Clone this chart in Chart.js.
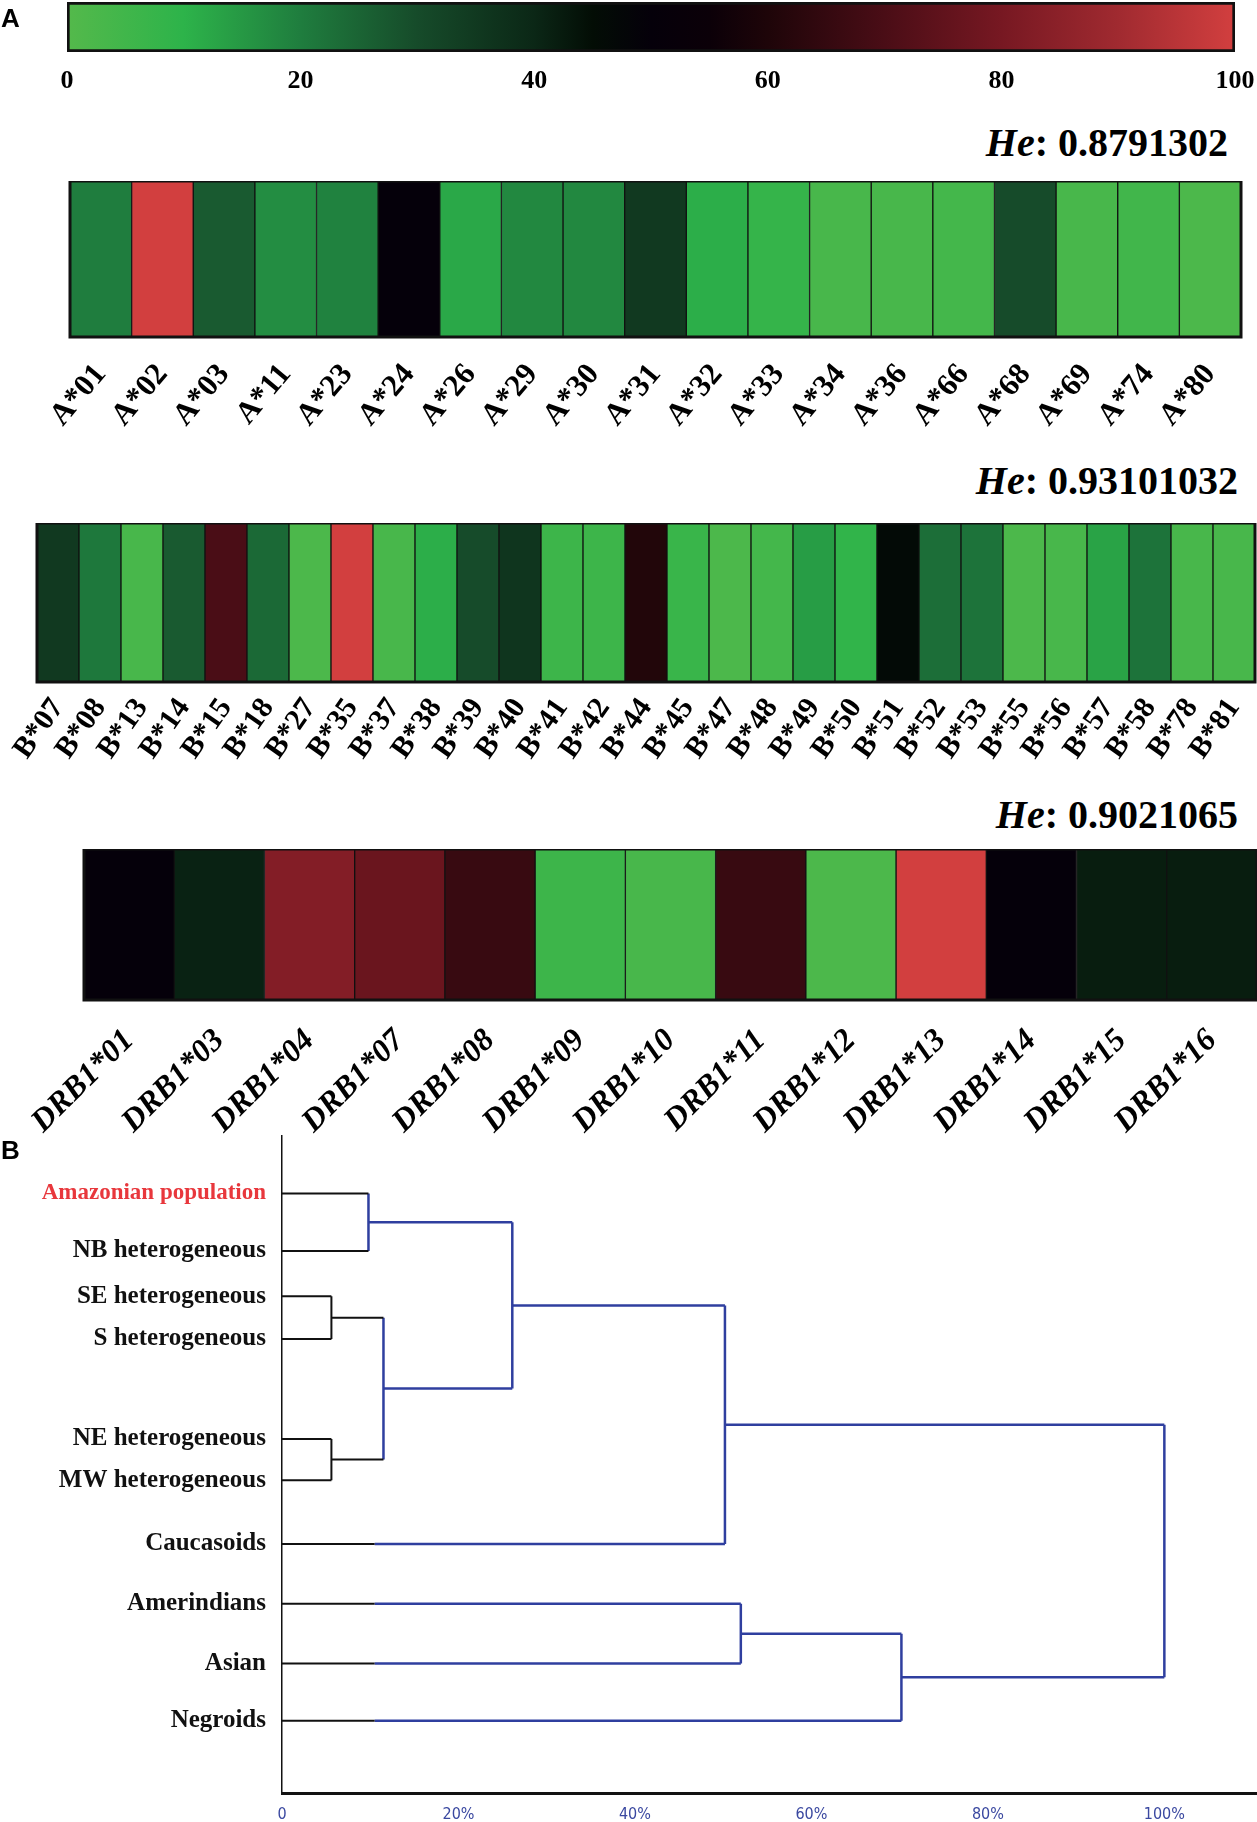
<!DOCTYPE html>
<html>
<head>
<meta charset="utf-8">
<script src="https://cdn.jsdelivr.net/npm/chart.js@4.4.1/dist/chart.umd.min.js"></script>
<style>
  html, body { margin: 0; padding: 0; background: #fff; }
  body { width: 1257px; height: 1822px; position: relative; overflow: hidden; font-family: 'Liberation Serif', 'Times New Roman', serif; }
  .box { position: absolute; left: 0; width: 1257px; }
  .he { position: absolute; font-weight: bold; font-size: 40px; line-height: 44px; white-space: nowrap; color: #000; }
  .panel { position: absolute; left: 1px; font-family: 'Liberation Sans', Arial, sans-serif; font-weight: bold; font-size: 26px; line-height: 26px; }
</style>
</head>
<body>
<div class="box" style="top:0;height:110px"><canvas id="colorScale"></canvas></div>
<div class="box" style="top:181px;height:270px"><canvas id="hlaA"></canvas></div>
<div class="box" style="top:523px;height:267px"><canvas id="hlaB"></canvas></div>
<div class="box" style="top:849px;height:291px"><canvas id="hlaDRB1"></canvas></div>
<div class="box" style="top:1130px;height:692px"><canvas id="dendro"></canvas></div>

<div class="panel" style="top:5px">A</div>
<div class="panel" style="top:1137px">B</div>
<div class="he" style="right:29px;top:121px"><i>He</i>: 0.8791302</div>
<div class="he" style="right:19px;top:459px"><i>He</i>: 0.93101032</div>
<div class="he" style="right:19px;top:793px"><i>He</i>: 0.9021065</div>

<script>
Chart.defaults.font.family = "'Liberation Serif', 'Times New Roman', serif";
Chart.defaults.color = '#000';

// colour scale (frequency %)
const scaleTicks = [0, 20, 40, 60, 80, 100];
const colorStops = [
  [0, '#54b94b'], [10, '#2db34a'], [20, '#1f7d3e'], [30, '#164b2a'], [40, '#0b2716'],
  [45, '#030d05'], [50, '#05000a'], [55, '#0b0008'], [60, '#1e0509'], [70, '#4a0d16'],
  [80, '#771822'], [90, '#a02a30'], [100, '#d23f3f']
];

// HLA-A
const allelesA = ['A*01','A*02','A*03','A*11','A*23','A*24','A*26','A*29','A*30','A*31',
  'A*32','A*33','A*34','A*36','A*66','A*68','A*69','A*74','A*80'];
const valuesA = [20, 100, 27, 17, 19, 50, 12, 18, 18, 35, 11, 8, 3, 3, 4, 30, 3, 5, 2];

// HLA-B
const allelesB = ['B*07','B*08','B*13','B*14','B*15','B*18','B*27','B*35','B*37','B*38',
  'B*39','B*40','B*41','B*42','B*44','B*45','B*47','B*48','B*49','B*50','B*51','B*52',
  'B*53','B*55','B*56','B*57','B*58','B*78','B*81'];
const valuesB = [35, 21, 3, 27, 70, 24, 2, 100, 3, 11, 30, 36, 6, 6, 61, 7, 2, 4, 14, 9,
  46, 23, 22, 2, 3, 13, 22, 3, 3];

// HLA-DRB1
const allelesDRB1 = ['DRB1*01','DRB1*03','DRB1*04','DRB1*07','DRB1*08','DRB1*09','DRB1*10',
  'DRB1*11','DRB1*12','DRB1*13','DRB1*14','DRB1*15','DRB1*16'];
const valuesDRB1 = [50, 41, 83, 77, 66, 6, 3, 66, 2, 100, 50, 42, 42];

// dendrogram
const popNames = ['Amazonian population','NB heterogeneous','SE heterogeneous','S heterogeneous',
  'NE heterogeneous','MW heterogeneous','Caucasoids','Amerindians','Asian','Negroids'];
const leafPos = [8.75, 17.5, 24.4, 30.9, 46.1, 52.4, 62.1, 71.2, 80.3, 89.0];
// [child, child, height %]; new nodes get numbers after the leaves
const merges = [[0, 1, 9.8], [2, 3, 5.6], [4, 5, 5.6], [11, 12, 11.5], [10, 13, 26.1],
  [14, 6, 50.2], [7, 8, 52.0], [16, 9, 70.2], [15, 17, 100]];
const distTicks = [0, 20, 40, 60, 80, 100];

const BLACK = '#111111';
const BLUE = '#2f3f9f';

function hexRgb(h) {
  return [1, 3, 5].map(i => parseInt(h.substr(i, 2), 16));
}

function valueColor(v) {
  for (let i = 1; i < colorStops.length; i++) {
    if (v <= colorStops[i][0]) {
      const a = colorStops[i - 1], b = colorStops[i];
      const t = (v - a[0]) / (b[0] - a[0]);
      const ca = hexRgb(a[1]), cb = hexRgb(b[1]);
      const c = ca.map((x, k) => Math.round(x + (cb[k] - x) * t));
      return 'rgb(' + c.join(',') + ')';
    }
  }
  return colorStops[colorStops.length - 1][1];
}

function gradientFill(ctx) {
  const a = ctx.chart.chartArea;
  if (!a) return colorStops[0][1];
  const g = ctx.chart.ctx.createLinearGradient(a.left, 0, a.right, 0);
  colorStops.forEach(s => g.addColorStop(s[0] / 100, s[1]));
  return g;
}

const frame = {
  id: 'frame',
  afterDatasetsDraw(chart) {
    const a = chart.chartArea, c = chart.ctx;
    c.save();
    c.strokeStyle = BLACK;
    c.lineWidth = 3;
    c.strokeRect(a.left, a.top, a.right - a.left, a.bottom - a.top);
    c.restore();
  }
};

const quiet = { legend: { display: false }, tooltip: { enabled: false } };

// colour bar
new Chart(document.getElementById('colorScale'), {
  type: 'bar',
  data: {
    labels: [''],
    datasets: [{
      data: [[scaleTicks[0], scaleTicks[scaleTicks.length - 1]]],
      backgroundColor: gradientFill,
      borderColor: BLACK,
      borderWidth: 3,
      borderSkipped: false,
      barPercentage: 1,
      categoryPercentage: 1
    }]
  },
  options: {
    indexAxis: 'y',
    responsive: true, maintainAspectRatio: false, animation: false,
    layout: { padding: { left: 67, right: 22, top: 2 } },
    plugins: quiet,
    scales: {
      x: {
        type: 'linear', min: 0, max: 100,
        grid: { display: false }, border: { display: false },
        afterBuildTicks: s => { s.ticks = scaleTicks.map(v => ({ value: v })); },
        ticks: { padding: 6, font: { size: 26, weight: 'bold' } },
        afterFit: s => { s.height = 58; s.paddingLeft = 0; s.paddingRight = 0; }
      },
      y: { display: false }
    }
  }
});

function heatRow(id, labels, values, o) {
  return new Chart(document.getElementById(id), {
    type: 'bar',
    data: {
      labels: labels,
      datasets: [{
        data: values.map(() => 1),
        backgroundColor: values.map(valueColor),
        borderColor: BLACK,
        borderWidth: 1,
        borderSkipped: false,
        barPercentage: 1,
        categoryPercentage: 1
      }]
    },
    options: {
      responsive: true, maintainAspectRatio: false, animation: false,
      layout: { padding: { left: o.left, right: o.right, top: 0 } },
      plugins: quiet,
      scales: {
        x: {
          grid: { display: false }, border: { display: false },
          ticks: {
            autoSkip: false, minRotation: o.rot, maxRotation: o.rot, padding: o.pad,
            font: { size: o.size, weight: 'bold', style: o.style }
          },
          afterFit: s => { s.height = o.axisH; s.paddingLeft = 0; s.paddingRight = 0; }
        },
        y: { display: false, min: 0, max: 1 }
      }
    },
    plugins: [frame]
  });
}

heatRow('hlaA', allelesA, valuesA, { left: 70, right: 16, rot: 50, pad: 12, size: 31, style: 'normal', axisH: 114 });
heatRow('hlaB', allelesB, valuesB, { left: 37, right: 2, rot: 55, pad: 2, size: 30, style: 'normal', axisH: 108 });
heatRow('hlaDRB1', allelesDRB1, valuesDRB1, { left: 84, right: 0, rot: 45, pad: 14, size: 32, style: 'italic', axisH: 140 });

// dendrogram segments from the merge table
const blackCut = 10.5;
const nodeY = leafPos.slice();
const nodeH = leafPos.map(() => 0);
const segs = [];
merges.forEach(m => {
  const a = m[0], b = m[1], h = m[2];
  [a, b].forEach(c => {
    const y = nodeY[c], h0 = nodeH[c];
    if (c < popNames.length && h >= 12) {
      segs.push([h0, y, blackCut, y, BLACK]);
      segs.push([blackCut, y, h, y, BLUE]);
    } else {
      segs.push([h0, y, h, y, h >= 12 ? BLUE : BLACK]);
    }
  });
  segs.push([h, nodeY[a], h, nodeY[b], h >= 9 ? BLUE : BLACK]);
  nodeY.push((nodeY[a] + nodeY[b]) / 2);
  nodeH.push(h);
});

new Chart(document.getElementById('dendro'), {
  type: 'scatter',
  data: {
    datasets: segs.map(s => ({
      data: [{ x: s[0], y: s[1] }, { x: s[2], y: s[3] }],
      showLine: true,
      borderColor: s[4],
      borderWidth: s[4] === BLUE ? 2.5 : 2,
      pointRadius: 0,
      fill: false
    }))
  },
  options: {
    responsive: true, maintainAspectRatio: false, animation: false,
    layout: { padding: { top: 6, right: 0, left: 0 } },
    plugins: quiet,
    scales: {
      x: {
        type: 'linear', min: 0, max: 110.5,
        grid: { display: false },
        border: { display: true, color: BLACK, width: 3 },
        afterBuildTicks: s => { s.ticks = distTicks.map(v => ({ value: v })); },
        ticks: {
          padding: 4, color: '#3a48a0',
          font: { family: "'Liberation Sans Narrow', 'DejaVu Sans Condensed', sans-serif", size: 16 },
          callback: v => v === 0 ? '0' : v + '%'
        },
        afterFit: s => { s.height = 29; s.paddingLeft = 0; s.paddingRight = 0; }
      },
      y: {
        type: 'linear', reverse: true, min: 0, max: 100,
        grid: { display: false },
        border: { display: true, color: BLACK, width: 1.5 },
        afterBuildTicks: s => { s.ticks = leafPos.map(v => ({ value: v })); },
        ticks: {
          padding: 8,
          color: c => c.index === 0 ? '#e8373c' : BLACK,
          font: c => ({ size: c.index === 0 ? 23 : 25, weight: 'bold' }),
          callback: (v, i) => popNames[i]
        },
        afterFit: s => { s.width = 282; s.paddingTop = 0; s.paddingBottom = 0; }
      }
    }
  }
});
</script>
</body>
</html>
